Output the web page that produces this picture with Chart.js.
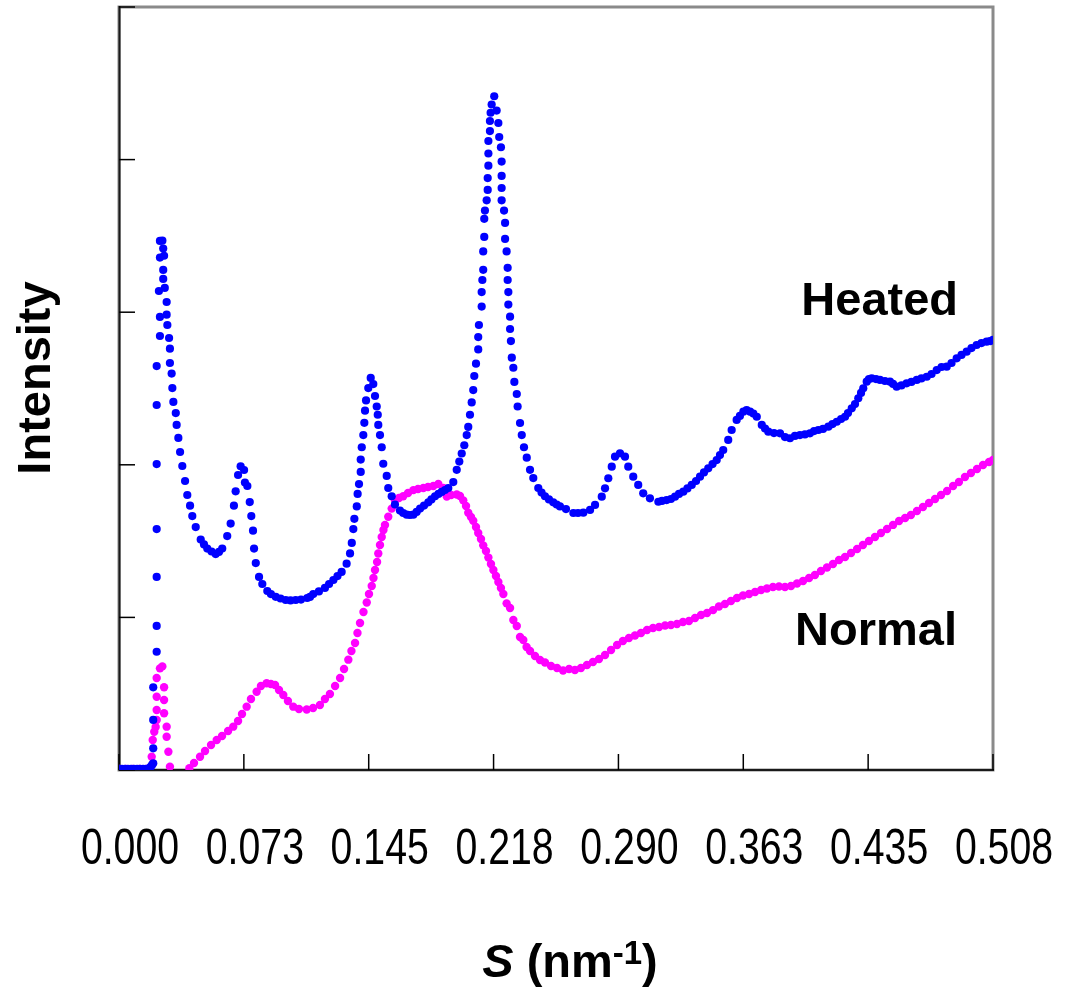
<!DOCTYPE html>
<html>
<head>
<meta charset="utf-8">
<script src="https://cdn.jsdelivr.net/npm/chart.js@4.4.1/dist/chart.umd.min.js"></script>
<style>
html,body{margin:0;padding:0;background:#fff;}
#wrap{width:1067px;height:995px;position:relative;}
</style>
</head>
<body>
<div id="wrap"><canvas id="c" width="1067" height="995"></canvas></div>
<script>
// ---- tick values / labels ----
const xTickValues = [0, 0.072571, 0.145143, 0.217714, 0.290286, 0.362857, 0.435429, 0.508];
const xTickLabels = ['0.000','0.073','0.145','0.218','0.290','0.363','0.435','0.508'];
const yTickValues = [0, 1, 2, 3, 4, 5];

// ---- Heated series (S in nm^-1, intensity in arbitrary units) ----
const heatedS = [
0,0.0017,0.0035,0.0052,0.0070,0.0087,0.0105,0.0122,0.0140,0.0157,0.0174,0.0184,0.0192,
0.0199,0.0199,0.0199,0.0199,0.0219,0.0219,0.0219,0.0219,0.0219,0.0219,0.0219,
0.0238,0.0238,0.0232,0.0238,0.0238,0.0252,0.0257,0.0262,0.0257,0.0257,0.0266,0.0277,0.0277,0.0281,
0.0291,0.0296,0.0296,0.0306,0.0310,0.0316,0.0330,0.0335,0.0345,0.0355,0.0368,0.0384,0.0397,0.0413,
0.0426,0.0446,0.0475,0.0494,0.0513,0.0538,0.0562,0.0581,0.0600,0.0629,0.0649,0.0668,0.0678,0.0692,
0.0707,0.0727,0.0732,0.0746,0.0760,0.0769,0.0779,0.0785,0.0795,0.0814,0.0833,0.0862,0.0883,0.0911,
0.0939,0.0969,0.0997,0.1027,0.1058,0.1094,0.1110,0.1129,0.1162,0.1197,0.1221,0.1246,0.1270,0.1294,
0.1323,0.1343,0.1353,0.1362,0.1368,0.1382,0.1387,0.1395,0.1405,0.1405,0.1411,0.1420,0.1426,0.1430,
0.1436,0.1449,0.1463,0.1478,0.1488,0.1498,0.1504,0.1507,0.1517,0.1527,0.1536,0.1556,0.1565,0.1585,
0.1604,0.1633,0.1652,0.1672,0.1691,0.1711,0.1730,0.1750,0.1773,0.1798,0.1816,0.1837,0.1857,0.1876,
0.1895,0.1914,0.1943,0.1963,0.1978,0.1992,0.2007,0.2021,0.2030,0.2040,0.2050,0.2059,0.2065,0.2075,
0.2088,0.2088,0.2092,0.2108,0.2108,0.2112,0.2117,0.2117,0.2123,0.2123,0.2127,0.2137,0.2143,0.2143,
0.2147,0.2147,0.2147,0.2156,0.2156,0.2160,0.2166,0.2181,0.2195,0.2205,0.2210,0.2220,0.2224,0.2224,
0.2224,0.2224,0.2238,0.2244,0.2244,0.2253,0.2259,0.2259,0.2263,0.2263,0.2273,0.2273,0.2278,0.2283,
0.2292,0.2298,0.2312,0.2317,0.2331,0.2341,0.2354,0.2370,0.2389,0.2408,0.2437,0.2456,0.2476,0.2499,
0.2524,0.2544,0.2563,0.2598,0.2641,0.2668,0.2699,0.2738,0.2767,0.2806,0.2825,0.2844,0.2864,0.2883,
0.2912,0.2941,0.2960,0.2989,0.3018,0.3047,0.3086,0.3135,0.3156,0.3183,0.3208,0.3232,0.3255,0.3280,
0.3304,0.3329,0.3354,0.3377,0.3400,0.3425,0.3450,0.3474,0.3493,0.3512,0.3541,0.3561,0.3590,0.3609,
0.3629,0.3648,0.3668,0.3687,0.3707,0.3736,0.3755,0.3774,0.3807,0.3842,0.3871,0.3900,0.3929,0.3958,
0.3987,0.4016,0.4040,0.4065,0.4092,0.4123,0.4147,0.4172,0.4197,0.4220,0.4237,0.4259,0.4278,0.4297,
0.4313,0.4326,0.4346,0.4359,0.4375,0.4400,0.4423,0.4452,0.4481,0.4499,0.4520,0.4548,0.4578,0.4606,
0.4637,0.4664,0.4695,0.4723,0.4753,0.4781,0.4811,0.4839,0.4869,0.4897,0.4927,0.4955,0.4985,0.5013,
0.5043,0.5063,0.5080
];
const heatedI = [
0.007,0.007,0.007,0.007,0.007,0.007,0.007,0.007,0.007,0.007,0.010,0.020,0.033,
0.044,0.142,0.328,0.542,0.775,0.944,1.265,1.579,2.005,2.392,2.647,
2.844,2.969,3.139,3.358,3.467,3.469,3.417,3.370,3.277,3.218,3.159,3.067,2.984,2.916,
2.831,2.761,2.667,2.598,2.503,2.412,2.339,2.261,2.176,2.084,1.992,1.894,1.802,1.732,
1.664,1.592,1.510,1.478,1.451,1.432,1.415,1.429,1.451,1.533,1.615,1.732,1.826,1.933,
1.990,1.966,1.884,1.861,1.756,1.664,1.568,1.451,1.356,1.265,1.219,1.173,1.153,1.135,
1.124,1.114,1.111,1.114,1.117,1.127,1.134,1.153,1.170,1.193,1.219,1.245,1.271,1.298,
1.352,1.419,1.488,1.579,1.646,1.727,1.809,1.874,1.953,2.034,2.115,2.195,2.275,2.355,
2.422,2.503,2.569,2.529,2.451,2.382,2.328,2.261,2.195,2.115,2.007,1.927,1.848,1.794,
1.740,1.700,1.684,1.673,1.671,1.673,1.691,1.713,1.733,1.754,1.773,1.794,1.809,1.822,
1.835,1.848,1.887,1.967,2.021,2.074,2.128,2.195,2.248,2.328,2.409,2.490,2.582,2.663,
2.756,2.837,2.916,3.037,3.132,3.211,3.278,3.398,3.493,3.612,3.666,3.733,3.801,3.879,
3.960,4.040,4.122,4.187,4.253,4.307,4.361,4.415,4.321,4.240,4.148,4.081,3.987,3.893,
3.814,3.733,3.666,3.585,3.480,3.398,3.291,3.211,3.132,3.050,2.971,2.890,2.811,2.702,
2.636,2.543,2.464,2.382,2.274,2.195,2.115,2.047,1.967,1.913,1.848,1.818,1.794,1.773,
1.754,1.740,1.727,1.710,1.684,1.684,1.686,1.704,1.737,1.791,1.846,1.912,1.988,2.053,
2.075,2.053,1.988,1.922,1.868,1.813,1.780,1.758,1.763,1.769,1.776,1.791,1.809,1.824,
1.845,1.868,1.894,1.922,1.950,1.977,2.005,2.031,2.064,2.097,2.163,2.228,2.294,2.320,
2.348,2.359,2.348,2.336,2.315,2.261,2.238,2.217,2.208,2.206,2.182,2.174,2.189,2.195,
2.199,2.206,2.221,2.228,2.235,2.250,2.267,2.282,2.300,2.315,2.339,2.370,2.398,2.436,
2.471,2.501,2.545,2.562,2.567,2.562,2.556,2.549,2.545,2.530,2.512,2.520,2.534,2.543,
2.556,2.566,2.577,2.595,2.621,2.641,2.643,2.667,2.698,2.720,2.741,2.765,2.785,2.798,
2.807,2.811,2.818
];

// ---- Normal series ----
const normalS = [
0,0.0040,0.0080,0.0120,0.0160,0.0190,0.0196,0.0205,0.0213,0.0219,0.0219,0.0219,0.0219,
0.0238,0.0252,0.0262,0.0262,0.0262,0.0277,0.0277,0.0287,0.0296,
0.0409,0.0436,0.0471,0.0500,0.0535,0.0568,0.0599,0.0634,0.0664,0.0692,0.0715,0.0742,0.0767,
0.0800,0.0825,0.0858,0.0883,0.0907,0.0930,0.0955,0.0982,0.1013,0.1046,0.1091,0.1128,0.1168,
0.1197,0.1226,0.1256,0.1285,0.1308,0.1333,0.1351,0.1372,0.1386,0.1401,0.1421,0.1440,0.1453,
0.1469,0.1479,0.1488,0.1500,0.1507,0.1517,0.1527,0.1537,0.1546,0.1565,0.1585,0.1604,0.1627,
0.1652,0.1680,0.1711,0.1738,0.1769,0.1796,0.1827,0.1856,0.1885,0.1905,0.1930,0.1963,0.1982,
0.2001,0.2017,0.2030,0.2046,0.2059,0.2075,0.2088,0.2104,0.2117,0.2133,0.2147,0.2162,0.2176,
0.2191,0.2205,0.2220,0.2234,0.2253,0.2273,0.2292,0.2312,0.2331,0.2350,0.2369,0.2389,0.2418,
0.2447,0.2476,0.2511,0.2546,0.2581,0.2616,0.2650,0.2685,0.2720,0.2755,0.2790,0.2825,0.2860,
0.2895,0.2929,0.2964,0.2999,0.3034,0.3069,0.3104,0.3139,0.3174,0.3208,0.3243,0.3278,0.3313,
0.3348,0.3383,0.3418,0.3453,0.3487,0.3522,0.3557,0.3592,0.3627,0.3662,0.3697,0.3732,0.3766,
0.3801,0.3836,0.3871,0.3906,0.3941,0.3976,0.4011,0.4045,0.4080,0.4115,0.4150,0.4185,0.4220,
0.4255,0.4290,0.4324,0.4359,0.4394,0.4429,0.4464,0.4499,0.4534,0.4569,0.4603,0.4638,0.4673,
0.4708,0.4743,0.4778,0.4813,0.4848,0.4882,0.4917,0.4952,0.4987,0.5022,0.5057,0.5080
];
const normalI = [
0.007,0.007,0.007,0.007,0.007,0.087,0.197,0.251,0.282,0.328,0.393,0.480,0.603,
0.666,0.679,0.542,0.459,0.372,0.284,0.218,0.120,0.022,
0.011,0.046,0.087,0.125,0.164,0.197,0.223,0.256,0.284,0.321,0.367,0.415,0.465,
0.513,0.550,0.568,0.564,0.557,0.524,0.491,0.452,0.415,0.400,0.396,0.406,0.426,
0.465,0.498,0.550,0.603,0.662,0.723,0.780,0.832,0.898,0.963,1.035,1.098,1.153,
1.206,1.258,1.311,1.363,1.419,1.474,1.527,1.573,1.606,1.660,1.713,1.767,1.782,
1.794,1.815,1.834,1.841,1.848,1.855,1.861,1.874,1.848,1.792,1.802,1.805,1.796,
1.767,1.730,1.686,1.658,1.633,1.592,1.553,1.514,1.472,1.435,1.392,1.350,1.311,
1.271,1.232,1.193,1.153,1.092,1.062,0.983,0.944,0.872,0.852,0.806,0.780,0.747,
0.721,0.704,0.682,0.668,0.652,0.662,0.655,0.668,0.688,0.708,0.727,0.754,0.786,
0.819,0.845,0.865,0.881,0.898,0.917,0.931,0.937,0.947,0.950,0.957,0.970,0.976,
0.996,1.016,1.029,1.048,1.071,1.088,1.107,1.127,1.144,1.153,1.166,1.180,1.189,
1.199,1.202,1.199,1.206,1.222,1.239,1.258,1.278,1.304,1.327,1.350,1.376,1.396,
1.422,1.448,1.474,1.501,1.527,1.553,1.579,1.606,1.632,1.651,1.671,1.697,1.723,
1.750,1.776,1.802,1.828,1.861,1.887,1.920,1.946,1.972,1.999,2.018,2.031
];

const toPts = (xs, ys) => xs.map((s, i) => ({ x: s, y: ys[i] }));

const boldFont = "'Liberation Sans', Arial, sans-serif";

const decor = {
  id: 'decor',
  beforeDatasetsDraw(chart) {
    const { ctx, chartArea: a, scales: { x, y } } = chart;
    ctx.save();
    ctx.strokeStyle = '#8a8a8a';
    ctx.lineWidth = 3;
    ctx.strokeRect(a.left, a.top, a.right - a.left, a.bottom - a.top);
    ctx.strokeStyle = '#1a1a1a';
    ctx.lineWidth = 2;
    ctx.beginPath();
    ctx.moveTo(a.left + 0.5, a.top - 1);
    ctx.lineTo(a.left + 0.5, a.bottom);
    ctx.lineTo(a.right + 1, a.bottom);
    ctx.stroke();
    ctx.lineWidth = 1.5;
    ctx.strokeStyle = '#000';
    x.ticks.forEach(t => {
      const px = x.getPixelForValue(t.value);
      ctx.beginPath(); ctx.moveTo(px, a.bottom); ctx.lineTo(px, a.bottom - 16); ctx.stroke();
    });
    y.ticks.forEach(t => {
      const py = y.getPixelForValue(t.value);
      ctx.beginPath(); ctx.moveTo(a.left, py); ctx.lineTo(a.left + 16, py); ctx.stroke();
    });
    ctx.restore();
  },
  afterDraw(chart) {
    const { ctx, scales: { x, y } } = chart;
    ctx.save();
    ctx.fillStyle = '#000';
    // x tick labels (narrow face: horizontally condensed)
    ctx.font = "50px " + boldFont;
    ctx.textAlign = 'center';
    ctx.textBaseline = 'middle';
    x.ticks.forEach((t, i) => {
      ctx.save();
      ctx.translate(x.getPixelForValue(t.value) + 11, 850);
      ctx.scale(0.785, 1);
      ctx.fillText(xTickLabels[i], 0, 0);
      ctx.restore();
    });
    // y title
    ctx.font = "bold 47px " + boldFont;
    ctx.save();
    ctx.translate(50, 378);
    ctx.rotate(-Math.PI / 2);
    ctx.textAlign = 'center';
    ctx.textBaseline = 'alphabetic';
    ctx.fillText('Intensity', 0, 0);
    ctx.restore();
    // series labels
    ctx.textAlign = 'right';
    ctx.textBaseline = 'alphabetic';
    ctx.fillText('Heated', x.getPixelForValue(0.4877), y.getPixelForValue(2.982));
    ctx.fillText('Normal', x.getPixelForValue(0.4871), y.getPixelForValue(0.819));
    // x title: S (nm-1)
    const parts = [
      { t: 'S', f: "italic bold 47px " + boldFont, dy: 0 },
      { t: ' (nm', f: "bold 47px " + boldFont, dy: 0 },
      { t: '-1', f: "bold 33px " + boldFont, dy: -13 },
      { t: ')', f: "bold 47px " + boldFont, dy: 0 }
    ];
    let total = 0;
    parts.forEach(p => { ctx.font = p.f; p.w = ctx.measureText(p.t).width; total += p.w; });
    let cx = 570 - total / 2;
    ctx.textAlign = 'left';
    parts.forEach(p => { ctx.font = p.f; ctx.fillText(p.t, cx, 977 + p.dy); cx += p.w; });
    ctx.restore();
  }
};

new Chart(document.getElementById('c'), {
  type: 'scatter',
  data: {
    datasets: [
      { label: 'Heated', data: toPts(heatedS, heatedI), backgroundColor: '#0000ff', borderColor: '#0000ff',
        borderWidth: 0, pointRadius: 4.1, pointHoverRadius: 4.1 },
      { label: 'Normal', data: toPts(normalS, normalI), backgroundColor: '#ff00ff', borderColor: '#ff00ff',
        borderWidth: 0, pointRadius: 4.2, pointHoverRadius: 4.2 }
    ]
  },
  options: {
    responsive: false,
    animation: false,
    devicePixelRatio: 1,
    layout: { padding: { left: 0, top: 7, right: 74, bottom: 0 } },
    plugins: { legend: { display: false }, tooltip: { enabled: false } },
    scales: {
      x: {
        type: 'linear', min: 0, max: 0.508,
        afterBuildTicks: s => { s.ticks = xTickValues.map(v => ({ value: v })); },
        afterFit: s => { s.height = 225; },
        grid: { display: false, drawTicks: false },
        border: { display: false },
        ticks: { display: false }
      },
      y: {
        type: 'linear', min: 0, max: 5,
        afterBuildTicks: s => { s.ticks = yTickValues.map(v => ({ value: v })); },
        afterFit: s => { s.width = 119; },
        grid: { display: false, drawTicks: false },
        border: { display: false },
        ticks: { display: false }
      }
    }
  },
  plugins: [decor]
});
</script>
</body>
</html>
